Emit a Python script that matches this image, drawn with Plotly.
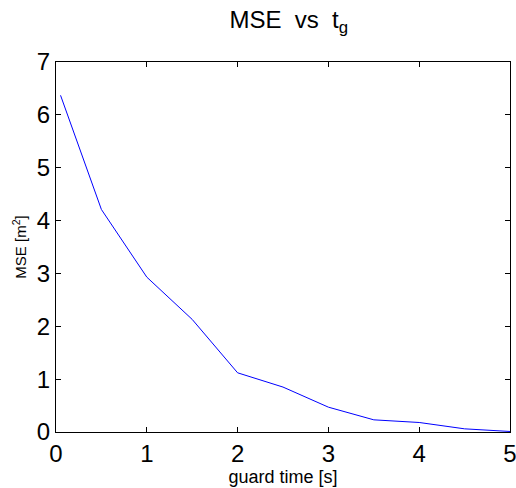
import plotly.graph_objects as go

# guard time [s] and corresponding mean squared error [m^2]
guard_time = [0.05, 0.5, 1.0, 1.5, 2.0, 2.5, 3.0, 3.5, 4.0, 4.5, 5.0]
mse = [6.37, 4.21, 2.93, 2.13, 1.12, 0.85, 0.47, 0.23, 0.18, 0.06, 0.01]

x_ticks = [0, 1, 2, 3, 4, 5]
y_ticks = [0, 1, 2, 3, 4, 5, 6, 7]

FONT = "Liberation Sans, Arial, Helvetica, sans-serif"

fig = go.Figure(
    go.Scatter(
        x=guard_time,
        y=mse,
        mode="lines",
        line=dict(color="#0000ff", width=1),
        showlegend=False,
        hoverinfo="skip",
    )
)

axis_common = dict(
    showline=True,
    linecolor="black",
    linewidth=1,
    mirror="allticks",
    ticks="inside",
    ticklen=5,
    tickwidth=1,
    tickcolor="black",
    showgrid=False,
    zeroline=False,
    automargin=False,
    ticklabeloverflow="allow",
    tickfont=dict(family=FONT, size=24, color="black"),
)

fig.update_layout(
    template="none",
    width=516,
    height=488,
    margin=dict(l=56, r=6, t=62, b=56),
    paper_bgcolor="white",
    plot_bgcolor="white",
    font=dict(family=FONT, color="black"),
    title=dict(
        text="MSE&nbsp;&nbsp;vs&nbsp;&nbsp;t<sub>g</sub>",
        font=dict(family=FONT, size=24, color="black"),
        x=0.382,
        xanchor="left",
        xref="paper",
        yref="container",
        y=1 - 11 / 488,
        yanchor="top",
        automargin=False,
    ),
    xaxis=dict(
        range=[0, 5],
        tickvals=x_ticks,
        ticktext=[str(v) for v in x_ticks],
        title=dict(text="guard time [s]", font=dict(family=FONT, size=18), standoff=0),
        **axis_common,
    ),
    yaxis=dict(
        range=[0, 7],
        tickvals=y_ticks,
        ticktext=[str(v) for v in y_ticks],
        title=dict(text="MSE [m<sup>2</sup>]", font=dict(family=FONT, size=15), standoff=6),
        **axis_common,
    ),
)

fig.write_html("out.html")
